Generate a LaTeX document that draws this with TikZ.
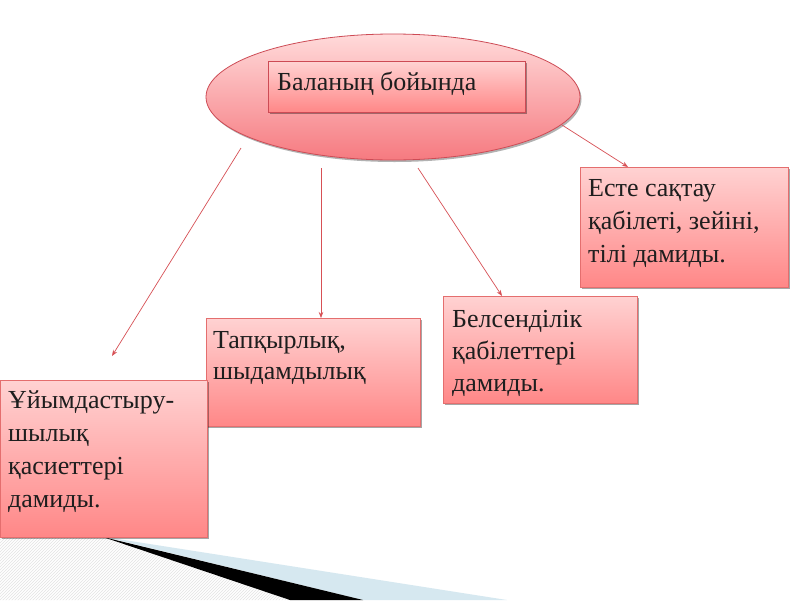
\documentclass[tikz,border=0pt]{standalone}
\usepackage{fontspec}
\setmainfont{Liberation Serif}
\usetikzlibrary{shapes.geometric,arrows.meta,shadows,patterns}
\definecolor{boxtop}{RGB}{255,210,210}
\definecolor{boxbot}{RGB}{255,135,135}
\definecolor{boxedge}{RGB}{228,110,110}
\definecolor{elltop}{RGB}{255,218,218}
\definecolor{ellbot}{RGB}{246,122,128}
\definecolor{elledge}{RGB}{205,75,85}
\definecolor{arrowred}{RGB}{215,80,85}
\definecolor{stripeblue}{RGB}{214,232,240}
\definecolor{txtcol}{RGB}{30,30,30}
\begin{document}
\begin{tikzpicture}[x=1pt,y=-1pt,
  pbox/.style={draw=boxedge, line width=0.8pt, top color=boxtop, bottom color=boxbot,
    drop shadow={shadow xshift=1.5pt, shadow yshift=-2pt, opacity=0.35, fill=black},
    anchor=north west, inner sep=0pt, rectangle},
  txt/.style={anchor=base west, inner sep=0pt, text=txtcol},
  conn/.style={draw=arrowred, line width=0.7pt, -{Stealth[length=6pt,width=4.5pt]}}
]
\useasboundingbox (0,0) rectangle (800,600);
\fill[white] (0,0) rectangle (800,600);

% bottom decoration
\fill[pattern=north east lines, pattern color=gray!22] (0,537) -- (103,537) -- (290,600) -- (0,600) -- cycle;
\fill[stripeblue] (105,537) -- (507,600) -- (363,600) -- cycle;
\fill[black] (103,537) -- (363,600) -- (290,600) -- cycle;

% ellipse
\node[ellipse, draw=elledge, line width=0.8pt, top color=elltop, bottom color=ellbot,
  drop shadow={shadow xshift=1.5pt, shadow yshift=-2pt, opacity=0.3, fill=black},
  minimum width=374pt, minimum height=126pt, inner sep=0pt] (ell) at (393,97) {};
\node[pbox, draw=elledge, minimum width=257pt, minimum height=51pt] (head) at (268,61) {};
\node[txt] (headt) at (277,90) {\fontsize{26}{33}\selectfont Баланың бойында};

% boxes
\node[pbox, minimum width=208pt, minimum height=120pt] (b1) at (580,167) {};
\node[pbox, minimum width=194pt, minimum height=107pt] (b2) at (443,296) {};
\node[pbox, minimum width=214pt, minimum height=108pt] (b3) at (206,318) {};
\node[pbox, minimum width=207pt, minimum height=157pt] (b4) at (0,380) {};

\node[txt] (t1) at (588,196) {\parbox[t]{200pt}{\fontsize{26}{33}\selectfont\raggedright Есте сақтау\\ қабілеті, зейіні,\\ тілі дамиды.}};
\node[txt] (t2) at (452,327) {\parbox[t]{190pt}{\fontsize{26}{32}\selectfont\raggedright Белсенділік\\ қабілеттері\\ дамиды.}};
\node[txt] (t3) at (213,348) {\parbox[t]{200pt}{\fontsize{26}{31}\selectfont\raggedright Тапқырлық,\\ шыдамдылық}};
\node[txt] (t4) at (8,408) {\parbox[t]{200pt}{\fontsize{26}{33}\selectfont\raggedright Ұйымдастыру-\\ шылық\\ қасиеттері\\ дамиды.}};

% connectors
\coordinate (s1) at (241,148);
\coordinate (e1) at (112,356);
\coordinate (s2) at (321,168);
\coordinate (e2) at (321,318);
\coordinate (s3) at (418,168);
\coordinate (e3) at (502,296);
\coordinate (s4) at (562,125);
\coordinate (e4) at (628,167);
\draw[conn] (s1) -- (e1);
\draw[conn] (s2) -- (e2);
\draw[conn] (s3) -- (e3);
\draw[conn] (s4) -- (e4);
\end{tikzpicture}
\end{document}
